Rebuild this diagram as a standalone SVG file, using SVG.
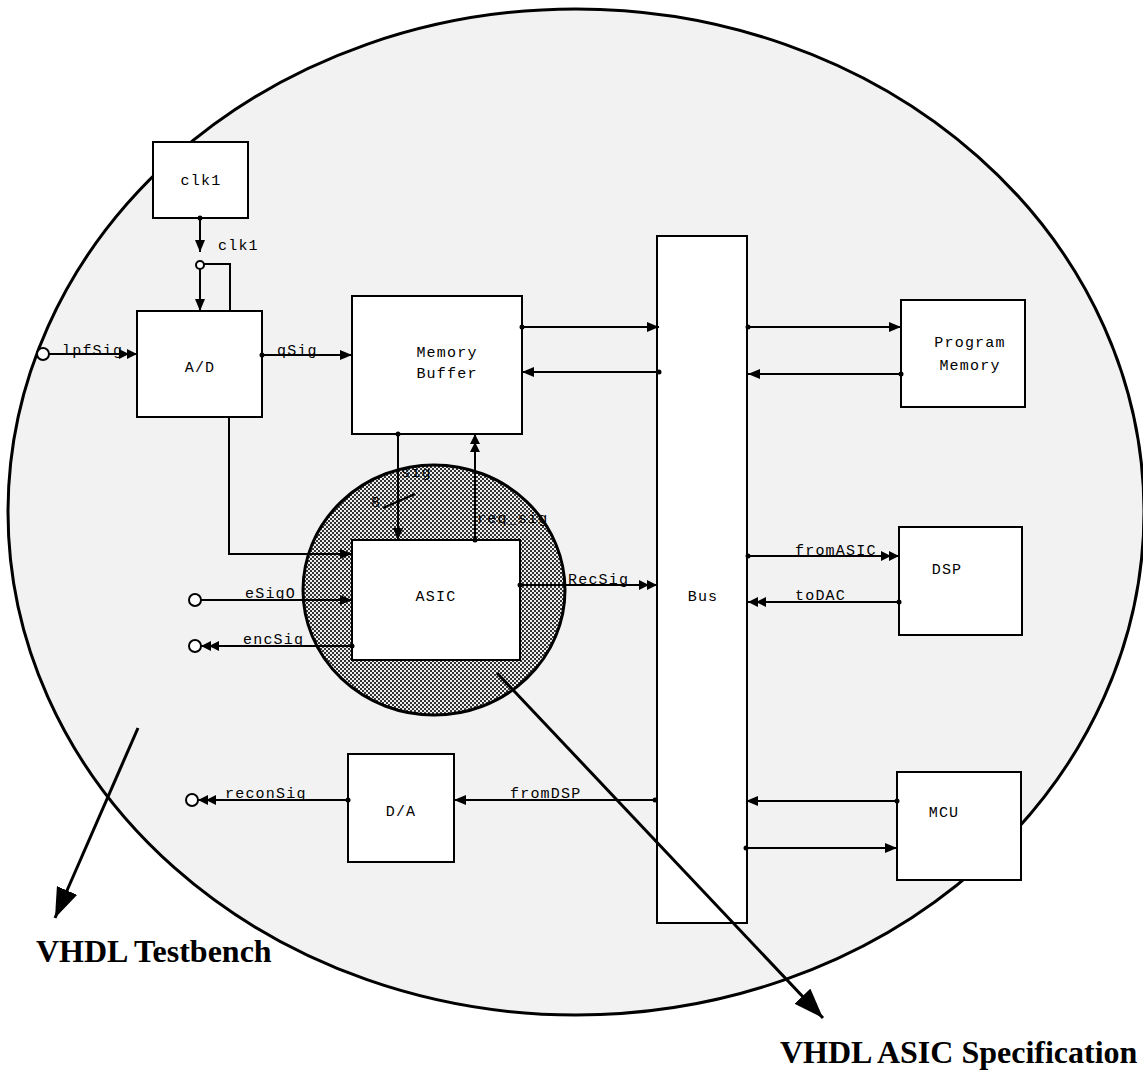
<svg xmlns="http://www.w3.org/2000/svg" width="1143" height="1072" viewBox="0 0 1143 1072">
<style>
.box{fill:#fff;stroke:#000;stroke-width:2}
.w{fill:none;stroke:#000;stroke-width:2}
.t{font-family:"Liberation Mono",monospace;font-size:15px;letter-spacing:1.2px;fill:#000}
.c{text-anchor:middle}
.big{font-family:"Liberation Serif","Times New Roman",serif;font-weight:bold;font-size:32px;fill:#000}
.port{fill:#fff;stroke:#000;stroke-width:2}
</style>
<defs>
<pattern id="chk" width="4" height="4" patternUnits="userSpaceOnUse">
<rect width="4" height="4" fill="#eee"/>
<rect x="0" y="0" width="2" height="2" fill="#333"/>
<rect x="2" y="2" width="2" height="2" fill="#333"/>
</pattern>
<marker id="a" viewBox="0 0 12 10" refX="12" refY="5" markerWidth="12" markerHeight="10" markerUnits="userSpaceOnUse" orient="auto">
<path d="M0,0 L12,5 L0,10 z" fill="#000"/>
</marker>
<marker id="a2" viewBox="0 0 18 10" refX="18" refY="5" markerWidth="18" markerHeight="10" markerUnits="userSpaceOnUse" orient="auto">
<path d="M0,0 L10,5 L0,10 z M8,0 L18,5 L8,10 z" fill="#000"/>
</marker>
<marker id="d" viewBox="0 0 6 6" refX="3" refY="3" markerWidth="6" markerHeight="6" markerUnits="userSpaceOnUse">
<circle cx="3" cy="3" r="2.5" fill="#000"/>
</marker>
<marker id="big" viewBox="0 0 30 22" refX="30" refY="11" markerWidth="30" markerHeight="22" markerUnits="userSpaceOnUse" orient="auto">
<path d="M0,0 L30,11 L0,22 z" fill="#000"/>
</marker>
</defs>
<rect width="1143" height="1072" fill="#fff"/>
<g id="testbench">
<ellipse cx="576" cy="512" rx="568" ry="503" fill="#f2f2f2" stroke="#000" stroke-width="3"/>
</g>
<g id="asic-spec">
<ellipse cx="434" cy="590" rx="131" ry="125" fill="url(#chk)" stroke="#000" stroke-width="3"/>
</g>
<g id="clk1-node">
<rect class="box" x="153" y="142" width="95" height="76"/>
<text class="t c" x="201" y="185">clk1</text>
</g>
<g id="ad-node">
<rect class="box" x="137" y="311" width="125" height="106"/>
<text class="t c" x="200" y="372">A/D</text>
</g>
<g id="membuf-node">
<rect class="box" x="352" y="296" width="170" height="138"/>
<text class="t c" x="447" y="357">Memory</text>
<text class="t c" x="447" y="378">Buffer</text>
</g>
<g id="asic-node">
<rect class="box" x="352" y="540" width="168" height="120"/>
<text class="t c" x="436" y="601">ASIC</text>
</g>
<g id="da-node">
<rect class="box" x="348" y="754" width="106" height="108"/>
<text class="t c" x="401" y="816">D/A</text>
</g>
<g id="bus-node">
<rect class="box" x="657" y="236" width="90" height="687"/>
<text class="t c" x="703" y="601">Bus</text>
</g>
<g id="progmem-node">
<rect class="box" x="901" y="300" width="124" height="107"/>
<text class="t c" x="970" y="347">Program</text>
<text class="t c" x="970" y="370">Memory</text>
</g>
<g id="dsp-node">
<rect class="box" x="899" y="527" width="123" height="108"/>
<text class="t c" x="947" y="574">DSP</text>
</g>
<g id="mcu-node">
<rect class="box" x="897" y="772" width="124" height="108"/>
<text class="t c" x="944" y="817">MCU</text>
</g>
<g id="connectors">
<path class="w" d="M200,218 V252" marker-start="url(#d)" marker-end="url(#a)"/>
<circle class="port" cx="200" cy="265" r="4"/>
<path class="w" d="M200,269 V311" marker-end="url(#a)"/>
<path class="w" d="M204,264 H230 V311"/>
<path class="w" d="M49,354 H137" marker-end="url(#a2)"/>
<circle class="port" cx="43" cy="354" r="6"/>
<path class="w" d="M262,355 H352" marker-start="url(#d)" marker-end="url(#a)"/>
<path class="w" d="M522,327 H659" marker-start="url(#d)" marker-end="url(#a)"/>
<path class="w" d="M659,372 H522" marker-start="url(#d)" marker-end="url(#a)"/>
<path class="w" d="M748,327 H901" marker-start="url(#d)" marker-end="url(#a)"/>
<path class="w" d="M901,374 H748" marker-start="url(#d)" marker-end="url(#a)"/>
<path class="w" d="M748,556 H899" marker-start="url(#d)" marker-end="url(#a2)"/>
<path class="w" d="M899,602 H748" marker-start="url(#d)" marker-end="url(#a2)"/>
<path class="w" d="M897,801 H746" marker-start="url(#d)" marker-end="url(#a)"/>
<path class="w" d="M746,848 H897" marker-start="url(#d)" marker-end="url(#a)"/>
<path class="w" d="M229,417 V554 H352" marker-end="url(#a)"/>
<path class="w" d="M201,600 H352" marker-end="url(#a)"/>
<circle class="port" cx="195" cy="600" r="6"/>
<path class="w" d="M352,646 H201" marker-start="url(#d)" marker-end="url(#a2)"/>
<circle class="port" cx="195" cy="646" r="6"/>
<path class="w" d="M398,434 V540" marker-start="url(#d)" marker-end="url(#a)"/>
<path class="w" d="M383,508 L415,494"/>
<path class="w" d="M475,540 V434" marker-start="url(#d)" marker-end="url(#a2)"/>
<path class="w" d="M520,585 H657" marker-start="url(#d)" marker-end="url(#a2)"/>
<path class="w" d="M655,800 H454" marker-start="url(#d)" marker-end="url(#a)"/>
<path class="w" d="M348,800 H198" marker-start="url(#d)" marker-end="url(#a2)"/>
<circle class="port" cx="192" cy="800" r="6"/>
<path d="M138,728 L55,918" stroke="#000" stroke-width="3" fill="none" marker-end="url(#big)"/>
<path d="M497,673 L823,1018" stroke="#000" stroke-width="3" fill="none" marker-end="url(#big)"/>
</g>
<g id="labels">
<text class="t" x="218" y="250">clk1</text>
<text class="t" x="62" y="355">lpfSig</text>
<text class="t" x="277" y="355">qSig</text>
<text class="t" x="401" y="477">sig</text>
<text class="t" x="371" y="507">8</text>
<text class="t" x="477" y="523">req_sig</text>
<text class="t" x="245" y="598">eSigO</text>
<text class="t" x="243" y="644">encSig</text>
<text class="t" x="568" y="584">RecSig</text>
<text class="t" x="795" y="555">fromASIC</text>
<text class="t" x="795" y="600">toDAC</text>
<text class="t" x="510" y="798">fromDSP</text>
<text class="t" x="225" y="798">reconSig</text>
<text class="big" x="36" y="962">VHDL Testbench</text>
<text class="big" x="780" y="1063">VHDL ASIC Specification</text>
</g>
</svg>
